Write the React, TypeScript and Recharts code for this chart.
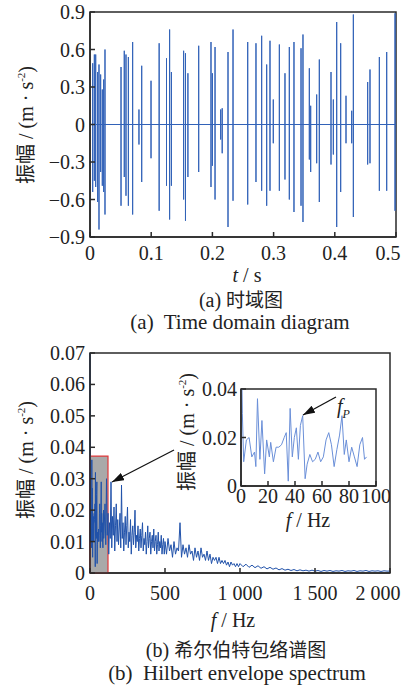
import React from "react";
import { LineChart, Line, XAxis, YAxis, ReferenceArea } from "recharts";

const serif = '"Times New Roman", "Liberation Serif", Tinos, "DejaVu Serif", "Noto Serif", serif';
const cjk = '"Noto Sans CJK SC", sans-serif';
const axisColor = "#2a2a2a";

// (a) time domain: impulse times (s), positive peaks and negative troughs (m/s^2)
const hitTimes = [
  0.0044, 0.0071, 0.0093, 0.0125, 0.0147, 0.0174, 0.0201, 0.0223, 0.0245,
  0.0507, 0.056, 0.0588, 0.0627, 0.0697, 0.08, 0.0845, 0.0997, 0.113, 0.125,
  0.1301, 0.133, 0.153, 0.156, 0.16, 0.1776, 0.1977, 0.2, 0.2043, 0.2135,
  0.216, 0.2255, 0.2337, 0.2577, 0.2712, 0.2805, 0.2887, 0.2941, 0.2995,
  0.3094, 0.3186, 0.3257, 0.3333, 0.3448, 0.348, 0.3584, 0.3606, 0.3704,
  0.3747, 0.3938, 0.3976, 0.4031, 0.4096, 0.4183, 0.4276, 0.4303, 0.4537,
  0.4575, 0.4728, 0.4848, 0.4984
];
const hitPeaks = [
  0.49, 0.56, 0.56, 0.42, 0.48, 0.4, 0.28, 0.36, 0.6,
  0.46, 0.59, 0.56, 0.54, 0.66, 0.12, 0.47, 0.35, 0.65, 0.53,
  0.76, 0.42, 0.59, 0.57, 0.41, 0.63, 0.66, 0.41, 0.62, 0.12,
  0.13, 0.58, 0.76, 0.66, 0.65, 0.71, 0.48, 0.67, 0.2,
  0.64, 0.41, 0.62, 0.66, 0.61, 0.72, 0.45, 0.15, 0.24,
  0.52, 0.42, 0.2, 0.82, 0.65, 0.23, 0.11, 0.88, 0.34,
  0.44, 0.54, 0.58, 0.89
];
const hitTroughs = [
  -0.54, -0.45, -0.5, -0.62, -0.84, -0.38, -0.49, -0.54, -0.72,
  -0.65, -0.42, -0.57, -0.65, -0.72, -0.16, -0.46, -0.27, -0.69, -0.49,
  -0.76, -0.49, -0.6, -0.77, -0.42, -0.38, -0.5, -0.33, -0.6, -0.12,
  -0.23, -0.82, -0.61, -0.64, -0.46, -0.53, -0.65, -0.53, -0.15,
  -0.53, -0.44, -0.6, -0.7, -0.65, -0.78, -0.28, -0.38, -0.31,
  -0.62, -0.32, -0.24, -0.82, -0.54, -0.15, -0.15, -0.74, -0.32,
  -0.31, -0.53, -0.53, -0.69
];
const timeTicks = [0, 0.1, 0.2, 0.3, 0.4, 0.5];
const ampTicks = [-0.9, -0.6, -0.3, 0, 0.3, 0.6, 0.9];

// (b) Hilbert envelope spectrum
const zoomFreqs = [
  0, 1, 2, 4, 6, 8, 10, 11, 12.2, 14, 15.5, 17.5, 19, 21, 22, 24, 26, 28, 30, 32,
  33.5, 35, 36.4, 38, 39.5, 41, 42.5, 44, 45.7, 47.5, 49, 51, 53, 55, 57, 59, 61,
  63, 65, 67, 69, 71, 73, 74.8, 76.5, 78, 80, 82, 84, 86, 88, 90, 91.5, 93
];
const zoomAmps = [
  0.07, 0.03, 0.01, 0.019, 0.02, 0.012, 0.014, 0.008, 0.036, 0.011,
  0.027, 0.005, 0.019, 0.012, 0.018, 0.01, 0.016, 0.016, 0.017, 0.02,
  0.022, 0.002, 0.032, 0.012, 0.02, 0.024, 0.011, 0.025, 0.029, 0.003,
  0.009, 0.013, 0.01, 0.011, 0.014, 0.01, 0.012, 0.019, 0.022, 0.017,
  0.008, 0.015, 0.021, 0.029, 0.013, 0.019, 0.01, 0.016, 0.012, 0.008,
  0.017, 0.02, 0.011, 0.012
];
const midStart = 100;
const midStep = 5;
const midAmps = [
  0.022, 0.009, 0.03, 0.012, 0.019, 0.006, 0.016, 0.011, 0.029, 0.008,
  0.018, 0.012, 0.021, 0.007, 0.015, 0.022, 0.01, 0.017, 0.009, 0.014,
  0.019, 0.008, 0.028, 0.011, 0.016, 0.007, 0.013, 0.018, 0.009, 0.015,
  0.021, 0.008, 0.013, 0.01, 0.017, 0.006, 0.012, 0.015, 0.009, 0.013,
  0.02, 0.008, 0.012, 0.01, 0.015, 0.007, 0.011, 0.014, 0.008, 0.012,
  0.016, 0.007, 0.011, 0.009, 0.013, 0.006, 0.01, 0.015, 0.008, 0.011,
  0.013, 0.006, 0.01, 0.012, 0.008, 0.014, 0.007, 0.01, 0.012, 0.006,
  0.009, 0.013, 0.007, 0.01, 0.008, 0.012, 0.006, 0.009, 0.011, 0.006
];
const highStart = 500;
const highStep = 10;
const highAmps = [
  0.01, 0.006, 0.011, 0.007, 0.009, 0.005, 0.01, 0.006, 0.008, 0.007,
  0.016, 0.005, 0.009, 0.006, 0.008, 0.005, 0.009, 0.006, 0.007, 0.004,
  0.008, 0.005, 0.007, 0.004, 0.008, 0.005, 0.006, 0.004, 0.007, 0.004,
  0.006, 0.003, 0.005, 0.004, 0.005, 0.003, 0.005, 0.003, 0.004, 0.003,
  0.004, 0.0025, 0.0035, 0.002, 0.0035, 0.0025, 0.003, 0.002, 0.003, 0.002
];
const tailStart = 1000;
const tailStep = 20;
const tailAmps = [
  0.003, 0.002, 0.0028, 0.0018, 0.0025, 0.0017, 0.0023, 0.0015, 0.002, 0.0013,
  0.0018, 0.0012, 0.0016, 0.001, 0.0014, 0.0009, 0.0012, 0.0008, 0.0011, 0.0007,
  0.001, 0.0007, 0.0009, 0.0006, 0.0009, 0.0006, 0.0008, 0.0005, 0.0008, 0.0006,
  0.0008, 0.0005, 0.0007, 0.0006, 0.0008, 0.0005, 0.0007, 0.0006, 0.0008, 0.0005,
  0.0007, 0.0006, 0.0008, 0.0005, 0.0007, 0.0006, 0.0007, 0.0005, 0.0007, 0.0006,
  0.0006
];
const freqTicks = [0, 500, 1000, 1500, 2000];
const specTicks = [0, 0.01, 0.02, 0.03, 0.04, 0.05, 0.06, 0.07];
const zoomFreqTicks = [0, 20, 40, 60, 80, 100];
const zoomAmpTicks = [0, 0.02, 0.04];

const timeData: { t: number; a: number }[] = [{ t: 0, a: 0 }];
hitTimes.forEach((t, i) => {
  timeData.push({ t, a: 0 }, { t, a: hitPeaks[i] }, { t, a: hitTroughs[i] }, { t, a: 0 });
});
timeData.push({ t: 0.5, a: 0 });

const zoomData = zoomFreqs.map((f, i) => ({ f, a: zoomAmps[i] }));
const spectrumData = [
  ...zoomData,
  ...midAmps.map((a, i) => ({ f: midStart + i * midStep, a })),
  ...highAmps.map((a, i) => ({ f: highStart + i * highStep, a })),
  ...tailAmps.map((a, i) => ({ f: tailStart + i * tailStep, a }))
];

const fmt1 = (v: number) => (v === 0 ? "0" : v.toFixed(1).replace("-", "\u2212"));
const fmt2 = (v: number) => (v === 0 ? "0" : v.toFixed(2));
const fmtHz = (v: number) =>
  v >= 1000 ? `${Math.floor(v / 1000)} ${String(v % 1000).padStart(3, "0")}` : String(v);

const makeXTick = (fmt: (v: number) => string, last: number, shift: number, size = 20) => (p: any) => (
  <text
    x={p.payload.value === last ? p.x - shift : p.x}
    y={p.y}
    dy="0.75em"
    textAnchor="middle"
    fontSize={size}
    style={{ fontFamily: serif }}
    fill="#222"
  >
    {fmt(p.payload.value)}
  </text>
);

const makeYTick = (fmt: (v: number) => string, size = 20) => (p: any) => (
  <text x={p.x} y={p.y} dy="0.35em" textAnchor="end" fontSize={size} style={{ fontFamily: serif }} fill="#222">
    {fmt(p.payload.value)}
  </text>
);

const AmpLabel = ({ x, y }: { x: number; y: number }) => (
  <div
    style={{
      position: "absolute",
      left: x,
      top: y,
      transform: "translate(-50%, -50%) rotate(-90deg)",
      whiteSpace: "nowrap",
      fontSize: 20,
      lineHeight: 1,
      color: "#222"
    }}
  >
    <span style={{ fontFamily: cjk }}>振幅</span>
    <span style={{ fontFamily: serif }}>
      {" / (m \u00b7 s"}
      <sup style={{ fontSize: 11 }}>-2</sup>)
    </span>
  </div>
);

const Caption = ({ x, y, children, size = 20 }: any) => (
  <div
    style={{
      position: "absolute",
      left: x,
      top: y,
      transform: "translate(-50%, -50%)",
      whiteSpace: "nowrap",
      fontSize: size,
      lineHeight: "18px",
      fontFamily: serif,
      color: "#222"
    }}
  >
    {children}
  </div>
);

const App = () => {
  return (
    <div style={{ position: "absolute", left: 0, top: 0, width: 406, height: 687, background: "#fff" }}>
      {/* (a) time domain */}
      <div style={{ position: "absolute", left: 0, top: 0 }}>
        <LineChart width={406} height={270} data={timeData} margin={{ top: 12, right: 10, left: 0, bottom: 0 }}>
          <XAxis
            dataKey="t"
            type="number"
            domain={[0, 0.5]}
            ticks={timeTicks}
            height={33}
            tickSize={-5}
            tickMargin={13}
            stroke={axisColor}
            strokeWidth={1.5}
            tick={makeXTick(fmt1, 0.5, 8)}
          />
          <YAxis
            type="number"
            domain={[-0.9, 0.9]}
            ticks={ampTicks}
            width={90}
            tickSize={-5}
            tickMargin={10}
            stroke={axisColor}
            strokeWidth={1.5}
            tick={makeYTick(fmt1)}
          />
          <ReferenceArea x1={0} x2={0.5} y1={-0.9} y2={0.9} fill="none" stroke={axisColor} strokeWidth={1.5} />
          <Line
            dataKey="a"
            type="linear"
            stroke="#3262b8"
            strokeWidth={1}
            dot={false}
            isAnimationActive={false}
          />
        </LineChart>
      </div>
      <Caption x={247} y={275}>
        <i>t</i> / s
      </Caption>
      <Caption x={241} y={299}>
        (a) <span style={{ fontFamily: cjk, fontSize: 19 }}>时域图</span>
      </Caption>
      <Caption x={240} y={322} size={21}>
        (a)&nbsp; Time domain diagram
      </Caption>
      <AmpLabel x={25} y={125} />

      {/* (b) envelope spectrum */}
      <div style={{ position: "absolute", left: 0, top: 340 }}>
        <LineChart width={406} height={268} data={spectrumData} margin={{ top: 13, right: 16, left: 0, bottom: 0 }}>
          <XAxis
            dataKey="f"
            type="number"
            domain={[0, 2000]}
            ticks={freqTicks}
            height={35}
            tickSize={-5}
            tickMargin={17}
            stroke={axisColor}
            strokeWidth={1.5}
            tick={makeXTick(fmtHz, 2000, 12)}
          />
          <YAxis
            type="number"
            domain={[0, 0.07]}
            ticks={specTicks}
            width={90}
            tickSize={-5}
            tickMargin={10}
            stroke={axisColor}
            strokeWidth={1.5}
            tick={makeYTick(fmt2)}
          />
          <ReferenceArea x1={0} x2={2000} y1={0} y2={0.07} fill="none" stroke={axisColor} strokeWidth={1.5} />
          <ReferenceArea x1={0} x2={120} y1={0} y2={0.0372} fill="#9a9a9a" fillOpacity={0.85} stroke="#e0383a" strokeWidth={1.2} />
          <Line
            dataKey="a"
            type="linear"
            stroke="#2152aa"
            strokeWidth={1}
            dot={false}
            isAnimationActive={false}
          />
        </LineChart>
      </div>

      {/* inset 0-100 Hz */}
      <div style={{ position: "absolute", left: 180, top: 370 }}>
        <LineChart width={210} height={145} data={zoomData} margin={{ top: 19, right: 14, left: 0, bottom: 0 }}>
          <XAxis
            dataKey="f"
            type="number"
            domain={[0, 100]}
            ticks={zoomFreqTicks}
            height={29}
            tickSize={-5}
            tickMargin={6.5}
            stroke={axisColor}
            strokeWidth={1.5}
            tick={makeXTick(String, -1, 0)}
          />
          <YAxis
            type="number"
            domain={[0, 0.04]}
            ticks={zoomAmpTicks}
            allowDataOverflow
            width={61}
            tickSize={-5}
            tickMargin={9}
            stroke={axisColor}
            strokeWidth={1.5}
            tick={makeYTick(fmt2)}
          />
          <ReferenceArea x1={0} x2={100} y1={0} y2={0.04} fill="none" stroke={axisColor} strokeWidth={1.5} />
          <Line
            dataKey="a"
            type="linear"
            stroke="#6a8fd8"
            strokeWidth={1}
            dot={false}
            isAnimationActive={false}
          />
        </LineChart>
      </div>

      <svg width={406} height={687} style={{ position: "absolute", left: 0, top: 0, pointerEvents: "none" }}>
        <defs>
          <marker id="head" viewBox="0 0 12 8" refX="12" refY="4" markerWidth="12" markerHeight="8" orient="auto" markerUnits="userSpaceOnUse">
            <path d="M0,0 L12,4 L0,8 Z" fill="#111" />
          </marker>
        </defs>
        <line x1={174} y1={450} x2={112} y2={482} stroke="#111" strokeWidth={1.3} markerEnd="url(#head)" />
        <line x1={336} y1={397} x2={303} y2={415} stroke="#111" strokeWidth={1.3} markerEnd="url(#head)" />
      </svg>
      <div style={{ position: "absolute", left: 337, top: 396, fontFamily: serif, fontSize: 20, fontStyle: "italic", lineHeight: 1, color: "#222" }}>
        f<sub style={{ fontSize: 12 }}>P</sub>
      </div>

      <AmpLabel x={186} y={432} />
      <Caption x={308} y={520}>
        <i>f</i> / Hz
      </Caption>
      <AmpLabel x={25} y={460} />
      <Caption x={233} y={620}>
        <i>f</i> / Hz
      </Caption>
      <Caption x={236} y={649}>
        (b) <span style={{ fontFamily: cjk, fontSize: 19 }}>希尔伯特包络谱图</span>
      </Caption>
      <Caption x={237} y={673} size={21}>
        (b)&nbsp; Hilbert envelope spectrum
      </Caption>
    </div>
  );
};

export default App;
